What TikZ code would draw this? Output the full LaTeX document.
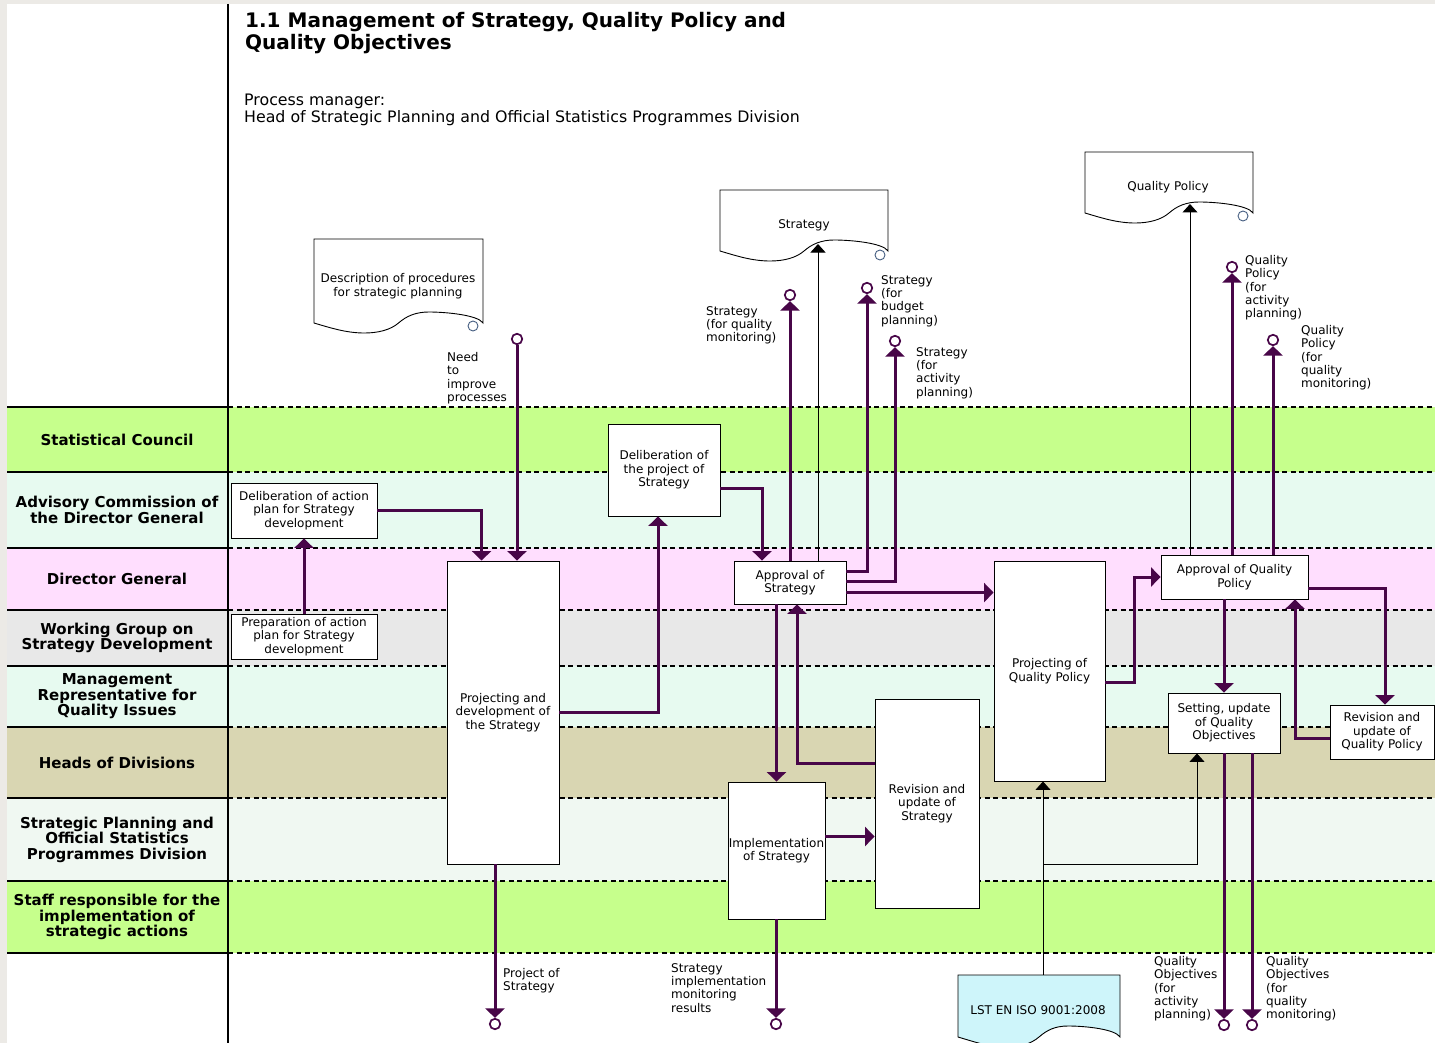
\documentclass[tikz,border=0pt]{standalone}
\usepackage{fontspec}
\setmainfont{DejaVu Sans}
\usetikzlibrary{arrows.meta,calc}
\definecolor{flowc}{RGB}{72,6,72}
\definecolor{lgreen}{RGB}{198,255,140}
\definecolor{lmint}{RGB}{231,250,240}
\definecolor{lpink}{RGB}{255,222,254}
\definecolor{lgray}{RGB}{232,232,232}
\definecolor{lkhaki}{RGB}{217,214,178}
\definecolor{lpale}{RGB}{240,248,242}
\definecolor{lcyan}{RGB}{206,245,250}
\definecolor{bgstrip}{RGB}{236,234,230}
\definecolor{iconc}{RGB}{70,95,130}
\newcommand\boxfont{\fontsize{12}{13.4}\selectfont}
\newcommand\lanefont{\fontsize{15}{15.5}\selectfont\bfseries}
\newcommand\docshape[2]{%
 \filldraw[docline,fill=#2] (#1.south west) -- (#1.north west) -- (#1.north east) -- (#1.south east)
  .. controls +(-5,-8) and +(17,0) .. ($(#1.south west)!0.68!(#1.south east)+(0,-11)$)
  .. controls +(-13,0) and +(8,-7) .. ($(#1.south west)!0.5!(#1.south east)$)
  .. controls +(-8,7) and +(13,0) .. ($(#1.south west)!0.3!(#1.south east)+(0,10)$)
  .. controls +(-17,0) and +(20,6) .. (#1.south west) -- cycle;}
\tikzset{
 proc/.style={draw=black, line width=0.9pt, fill=white, align=center, font=\boxfont, inner sep=0pt},
 lanelbl/.style={align=center, font=\lanefont, inner sep=0pt},
 note/.style={align=left, font=\boxfont, inner sep=0pt, anchor=north west},
 doctext/.style={align=center, font=\boxfont, inner sep=0pt},
 docframe/.style={rectangle, draw=none, inner sep=0pt, outer sep=0pt},
 docline/.style={draw=black, line width=0.9pt},
 ring/.style={circle, draw=flowc, line width=1.7pt, fill=white, minimum size=10.5pt, inner sep=0pt},
 infoicon/.style={circle, draw=iconc, line width=0.9pt, fill=white, minimum size=10pt, inner sep=0pt},
 flow/.style={draw=flowc, line width=3pt, -{Triangle[width=19pt,length=9.5pt]}},
 thinflow/.style={draw=black, line width=1pt, -{Triangle[width=15pt,length=8.5pt]}},
 lanedash/.style={draw=black, line width=1.1pt, dash pattern=on 5pt off 3.5pt},
 lanesolid/.style={draw=black, line width=1.2pt}
}
\begin{document}
\begin{tikzpicture}[x=1pt,y=-1pt]
\useasboundingbox (0,0) rectangle (1435,1043);
\fill[bgstrip] (0,0) rectangle (1435,1043);
\fill[white] (7,4) rectangle (1435,1043);
% lanes
\foreach \ya/\yb/\lc/\lbl [count=\i] in {
 407/472/lgreen/{Statistical Council},
 472/548/lmint/{Advisory Commission of\\the Director General},
 548/610/lpink/{Director General},
 610/666/lgray/{Working Group on\\Strategy Development},
 666/727/lmint/{Management\\Representative for\\Quality Issues},
 727/798/lkhaki/{Heads of Divisions},
 798/881/lpale/{Strategic Planning and\\Official Statistics\\Programmes Division},
 881/953/lgreen/{Staff responsible for the\\implementation of\\strategic actions}}
{
 \fill[\lc] (7,\ya) rectangle (1435,\yb);
 \node[lanelbl] (lane\i) at (117,{(\ya+\yb)/2}) {\lbl};
}
\foreach \y in {407,472,548,610,666,727,798,881,953}{
 \draw[lanesolid] (7,\y) -- (228,\y);
 \draw[lanedash] (228,\y) -- (1435,\y);
}
\draw[line width=1.3pt] (228,4) -- (228,1043);
% title
\node[anchor=north west, align=left, inner sep=0pt, font=\fontsize{20}{22}\selectfont\bfseries] (title) at (245,12)
 {1.1 Management of Strategy, Quality Policy and\\Quality Objectives};
\node[anchor=north west, align=left, inner sep=0pt, font=\fontsize{15.8}{17}\selectfont] (pm) at (244,94)
 {Process manager:\\Head of Strategic Planning and Official Statistics Programmes Division};
% process boxes
\node[proc, minimum width=146, minimum height=55] (delAP) at (304,510.5) {Deliberation of action\\plan for Strategy\\development};
\node[proc, minimum width=146, minimum height=45] (prepAP) at (304,636.5) {Preparation of action\\plan for Strategy\\development};
\node[proc, minimum width=112, minimum height=303] (projS) at (503,712.5) {Projecting and\\development of\\the Strategy};
\node[proc, minimum width=112, minimum height=92] (delPS) at (664,470) {Deliberation of\\the project of\\Strategy};
\node[proc, minimum width=112, minimum height=43] (appS) at (790,582.5) {Approval of\\Strategy};
\node[proc, minimum width=97, minimum height=137] (implS) at (776.5,850.5) {Implementation\\of Strategy};
\node[proc, minimum width=104, minimum height=209] (revS) at (927,803.5) {Revision and\\update of\\Strategy};
\node[proc, minimum width=111, minimum height=220] (projQP) at (1049.5,671) {Projecting of\\Quality Policy};
\node[proc, minimum width=147, minimum height=44] (appQP) at (1234.5,577) {Approval of Quality\\Policy};
\node[proc, minimum width=112, minimum height=60] (setQO) at (1224,723) {Setting, update\\of Quality\\Objectives};
\node[proc, minimum width=104, minimum height=54] (revQP) at (1382,732) {Revision and\\update of\\Quality Policy};
% documents
\node[docframe, minimum width=169, minimum height=84] (desc) at (398.5,281) {};
\docshape{desc}{white}
\node[doctext] (descT) at (398,286) {Description of procedures\\for strategic planning};
\node[infoicon] (descI) at (473,326) {};
\node[docframe, minimum width=168, minimum height=61] (stratDoc) at (804,220.5) {};
\docshape{stratDoc}{white}
\node[doctext] (stratT) at (804,225) {Strategy};
\node[infoicon] (stratI) at (880,255) {};
\node[docframe, minimum width=168, minimum height=61] (qpDoc) at (1169,182.5) {};
\docshape{qpDoc}{white}
\node[doctext] (qpT) at (1168,187) {Quality Policy};
\node[infoicon] (qpI) at (1243,216) {};
\node[docframe, minimum width=162, minimum height=62] (lstDoc) at (1039,1006) {};
\docshape{lstDoc}{lcyan}
\node[doctext] (lstT) at (1038,1010) {LST EN ISO 9001:2008};
% rings (inputs / outputs)
\node[ring] (rNeed) at (517,339) {};
\node[ring] (rSQM) at (790,295) {};
\node[ring] (rSBP) at (867,288) {};
\node[ring] (rSAP) at (895,341) {};
\node[ring] (rQPAP) at (1232,267) {};
\node[ring] (rQPQM) at (1273,340) {};
\node[ring] (rProj) at (495,1024) {};
\node[ring] (rImpl) at (776,1024) {};
\node[ring] (rQOAP) at (1224,1025) {};
\node[ring] (rQOQM) at (1252,1025) {};
% notes
\node[note] (nNeed) at (447,352) {Need\\to\\improve\\processes};
\node[note] (nSQM) at (706,306) {Strategy\\(for quality\\monitoring)};
\node[note] (nSBP) at (881,275) {Strategy\\(for\\budget\\planning)};
\node[note] (nSAP) at (916,347) {Strategy\\(for\\activity\\planning)};
\node[note] (nQPAP) at (1245,255) {Quality\\Policy\\(for\\activity\\planning)};
\node[note] (nQPQM) at (1301,325) {Quality\\Policy\\(for\\quality\\monitoring)};
\node[note] (nProj) at (503,968) {Project of\\Strategy};
\node[note] (nImpl) at (671,963) {Strategy\\implementation\\monitoring\\results};
\node[note] (nQOAP) at (1154,956) {Quality\\Objectives\\(for\\activity\\planning)};
\node[note] (nQOQM) at (1266,956) {Quality\\Objectives\\(for\\quality\\monitoring)};
% coordinates
\coordinate (sDocIn) at (818,244);
\coordinate (qDocIn) at (1190,204);
\coordinate (a3) at ($(appS.north east)+(0,32)$);
\coordinate (i1) at ($(implS.east)+(0,-14)$);
\coordinate (lstTop) at (1043,975);
\coordinate (lstBr) at (1043,864);
\coordinate (qoIn) at ($(setQO.south)+(-27,0)$);
% flows
\draw[flow] (prepAP.north) -- (delAP.south);
\draw[flow] (delAP.east) -| ($(projS.north west)+(35,0)$);
\draw[flow] (rNeed.south) -- (rNeed |- projS.north);
\draw[flow] (projS.east) -| ($(delPS.south)+(-6,0)$);
\draw[flow] ($(delPS.east)+(0,18)$) -| ($(appS.north)+(-28,0)$);
\draw[flow] (appS.north) -- (rSQM.south);
\draw[thinflow] (sDocIn |- appS.north) -- (sDocIn);
\draw[flow] ($(appS.north east)+(0,11)$) -| (rSBP.south);
\draw[flow] ($(appS.north east)+(0,21)$) -| (rSAP.south);
\draw[flow] (a3) -- (a3 -| projQP.west);
\draw[flow] (appS.south -| implS.north) -- (implS.north);
\draw[flow] ($(revS.west)+(0,-40.5)$) -| ($(appS.south)+(7,0)$);
\draw[flow] (i1) -- (i1 -| revS.west);
\draw[flow] (rProj |- projS.south) -- (rProj.north);
\draw[flow] (rImpl |- implS.south) -- (rImpl.north);
\draw[flow] ($(projQP.east)+(0,11)$) -- ++(29,0) |- (appQP.west);
\draw[flow] (appQP.south -| setQO.north) -- (setQO.north);
\draw[flow] ($(appQP.east)+(0,11)$) -| ($(revQP.north)+(3,0)$);
\draw[flow] ($(revQP.west)+(0,6)$) -| ($(appQP.south)+(60.5,0)$);
\draw[thinflow] (qDocIn |- appQP.north) -- (qDocIn);
\draw[flow] (rQPAP |- appQP.north) -- (rQPAP.south);
\draw[flow] (rQPQM |- appQP.north) -- (rQPQM.south);
\draw[flow] (rQOAP |- setQO.south) -- (rQOAP.north);
\draw[flow] (rQOQM |- setQO.south) -- (rQOQM.north);
\draw[thinflow] (lstTop) -- (lstTop |- projQP.south);
\draw[thinflow] (lstBr) -| (qoIn);
\end{tikzpicture}
\end{document}
